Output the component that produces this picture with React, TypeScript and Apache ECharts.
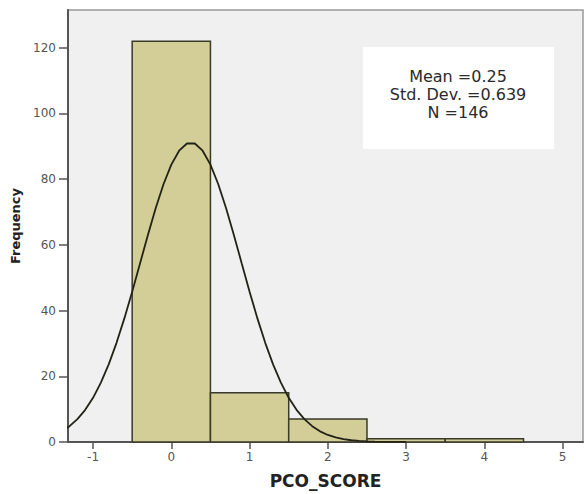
import React, { useEffect, useRef } from "react";
import * as echarts from "echarts";

const binStart = [-0.5, 0.5, 1.5, 2.5, 3.5];
const binEnd = [0.5, 1.5, 2.5, 3.5, 4.5];
const frequency = [122, 15, 7, 1, 1];

const curveX = [-1.4, -1.3, -1.2, -1.1, -1.0, -0.9, -0.8, -0.7, -0.6, -0.5, -0.4, -0.3, -0.2, -0.1, 0.0, 0.1, 0.2, 0.3, 0.4, 0.5, 0.6, 0.7, 0.8, 0.9, 1.0, 1.1, 1.2, 1.3, 1.4, 1.5, 1.6, 1.7, 1.8, 1.9, 2.0, 2.1, 2.2, 2.3, 2.4, 2.5, 2.6, 2.8, 3.0];
const curveY = [3.25, 4.81, 6.94, 9.79, 13.45, 18.05, 23.63, 30.19, 37.63, 45.77, 54.34, 62.94, 71.13, 78.45, 84.43, 88.67, 90.87, 90.87, 88.67, 84.43, 78.45, 71.13, 62.94, 54.34, 45.77, 37.63, 30.19, 23.63, 18.05, 13.45, 9.79, 6.94, 4.81, 3.25, 2.14, 1.38, 0.87, 0.53, 0.32, 0.19, 0.11, 0.03, 0.01];

const xTicks = [-1, 0, 1, 2, 3, 4, 5];
const yTicks = [0, 20, 40, 60, 80, 100, 120];

const statsLines = ["Mean =0.25", "Std. Dev. =0.639", "N =146"];

export default function App() {
  const ref = useRef<HTMLDivElement>(null);
  useEffect(() => {
    if (!ref.current) return;
    const chart = echarts.init(ref.current, null, { renderer: "svg" });
    const font = "DejaVu Sans, Liberation Sans, Arial, sans-serif";
    chart.setOption({
      animation: false,
      backgroundColor: "#ffffff",
      grid: {
        left: 68,
        top: 10,
        right: 4,
        bottom: 50,
        show: true,
        backgroundColor: "#f0f0f0",
        borderColor: "#999999",
        borderWidth: 1.5,
      },
      xAxis: {
        type: "value",
        min: -1.32,
        max: 5.26,
        name: "PCO_SCORE",
        nameLocation: "middle",
        nameGap: 30,
        nameTextStyle: { fontFamily: font, fontWeight: "bold", fontSize: 17, color: "#222" },
        axisLine: { show: true, onZero: false, lineStyle: { color: "#555", width: 2 } },
        axisTick: { show: true, length: 7, customValues: xTicks, lineStyle: { color: "#555", width: 1.5 } },
        axisLabel: { customValues: xTicks, color: "#555", fontSize: 12, fontFamily: font, margin: 9 },
        splitLine: { show: false },
      },
      yAxis: {
        type: "value",
        min: 0,
        max: 131.5,
        name: "Frequency",
        nameLocation: "middle",
        nameGap: 44,
        nameTextStyle: { fontFamily: font, fontWeight: "bold", fontSize: 13, color: "#222" },
        axisLine: { show: true, onZero: false, lineStyle: { color: "#555", width: 2 } },
        axisTick: { show: true, length: 9, customValues: yTicks, lineStyle: { color: "#555", width: 1.5 } },
        axisLabel: { customValues: yTicks, color: "#555", fontSize: 12, fontFamily: font, margin: 12 },
        splitLine: { show: false },
      },
      series: [
        {
          type: "custom",
          data: frequency.map((f, i) => [binStart[i], binEnd[i], f]),
          encode: { x: [0, 1], y: 2 },
          renderItem: (params: any, api: any) => {
            const p0 = api.coord([api.value(0), api.value(2)]);
            const p1 = api.coord([api.value(1), 0]);
            return {
              type: "rect",
              shape: { x: p0[0], y: p0[1], width: p1[0] - p0[0], height: p1[1] - p0[1] },
              style: { fill: "#d3cd98", stroke: "#3a3a2a", lineWidth: 1.5 },
            };
          },
          z: 2,
        },
        {
          type: "line",
          data: curveX.map((x, i) => [x, curveY[i]]),
          smooth: false,
          showSymbol: false,
          symbol: "none",
          lineStyle: { color: "#222215", width: 1.8 },
          z: 3,
        },
      ],
      graphic: [
        {
          type: "group",
          left: 363,
          top: 47,
          children: [
            { type: "rect", shape: { x: 0, y: 0, width: 191, height: 102 }, style: { fill: "#ffffff" } },
            ...statsLines.map((t, i) => ({
              type: "text",
              x: 95,
              y: 29 + i * 18,
              style: {
                text: t,
                fill: "#2a2a2a",
                font: `16px ${font}`,
                textAlign: "center",
                textVerticalAlign: "middle",
              },
            })),
          ],
        },
      ],
    });
    return () => chart.dispose();
  }, []);
  return <div ref={ref} style={{ position: "fixed", left: 0, top: 0, width: 587, height: 494 }} />;
}
